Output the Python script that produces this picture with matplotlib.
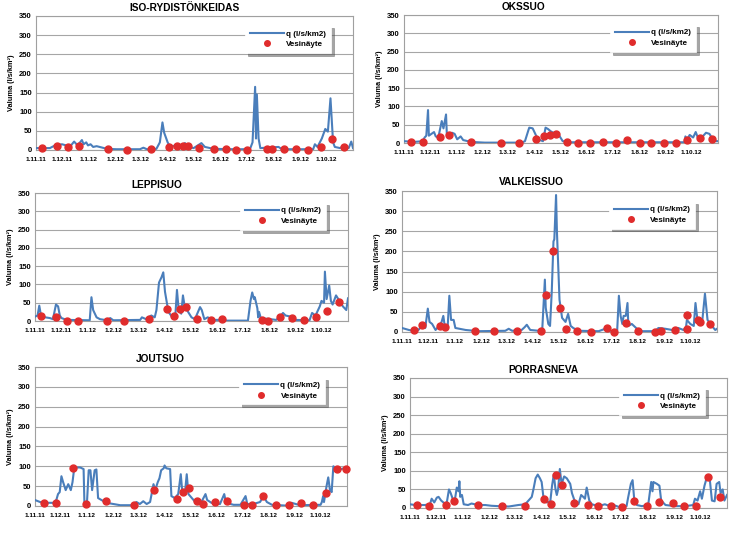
import numpy as np
import matplotlib
matplotlib.use("Agg")
import matplotlib.pyplot as plt
import matplotlib.dates as mdates

plt.rcParams['font.family'] = ['Liberation Sans Narrow', 'Liberation Sans', 'DejaVu Sans']

start_date = "2011-11-01"
month_ticks = ["1.11.11", "1.12.11", "1.1.12", "1.2.12", "1.3.12", "1.4.12",
               "1.5.12", "1.6.12", "1.7.12", "1.8.12", "1.9.12", "1.10.12"]
month_days = [0, 30, 61, 92, 121, 152, 182, 213, 243, 274, 305, 335]

# ---------------- ISO-RYDISTÖNKEIDAS ----------------
iso_q_day = [0, 16, 22, 30, 35, 39, 44, 48, 53, 55, 58, 60, 63, 66, 70, 82, 93, 120, 124, 128,
             139, 143, 146, 148, 152, 155, 161, 166, 172, 176, 182, 191, 195, 205, 228, 247,
             250, 253, 254, 255, 257, 259, 280, 284, 320, 322, 325, 330, 334, 337, 340, 343,
             345, 351, 355, 361, 364, 366]
iso_q = [5, 5, 12, 15, 12, 8, 22, 12, 26, 15, 20, 12, 15, 8, 10, 3, 2, 2, 6, 2,
         3, 20, 72, 45, 20, 8, 12, 8, 18, 8, 5, 18, 8, 3, 2, 2,
         20, 165, 30, 145, 30, 5, 8, 2, 2, 15, 8, 30, 55, 48, 135, 20,
         8, 5, 10, 5, 22, 5]
iso_s_day = [6.5, 24, 36.6, 50, 83.6, 104.8, 132.5, 154, 162.6, 169.5, 176, 188.7, 205,
             219.6, 230.7, 244, 266.6, 272.3, 285.8, 300, 314, 329, 341.7, 356]
iso_s = [4, 11, 8, 10, 3, 1, 2, 7, 11, 10, 10, 4, 2, 2, 1, 1, 2, 3, 2, 2, 1, 8, 28, 7]

# ---------------- OKSSUO ----------------
oks_q_day = [0, 12, 22, 24, 26, 28, 29, 32, 35, 37, 40, 44, 46, 49, 50, 53, 56, 59, 62, 66,
             69, 78, 94, 137, 141, 145, 146, 150, 153, 156, 162, 165, 168, 171, 174, 178,
             181, 185, 195, 327, 328, 330, 333, 337, 340, 343, 347, 352, 356, 360, 364, 366]
oks_q = [5, 3, 5, 15, 20, 90, 20, 25, 30, 18, 15, 60, 40, 78, 20, 15, 28, 25, 10, 18,
         8, 3, 1, 1, 5, 35, 42, 40, 25, 10, 5, 42, 38, 32, 28, 30,
         20, 5, 2, 2, 18, 10, 22, 15, 30, 12, 15, 28, 25, 10, 5, 5]
oks_s_day = [8.5, 22, 41.6, 52, 78.5, 113.4, 134, 154, 163, 170, 177.5, 189.6, 202.8, 217,
             232, 247.5, 260, 275, 288, 302.6, 317, 330, 344.6, 359]
oks_s = [3, 3, 16, 21, 3, 0, 1, 11, 20, 21, 24, 2, 1, 1, 2, 0, 7, 0, 0, 1, 0, 9, 14, 11]

# ---------------- LEPPISUO ----------------
lep_q_day = [0, 3, 5, 7, 12, 17.5, 21, 24.5, 27, 29, 31, 37, 64, 66, 68, 72, 76, 84, 88, 91.5,
             123, 125, 130, 136, 140, 142, 145, 148, 150, 152, 156, 160, 164, 166, 168, 171,
             173, 175, 179, 183, 187, 193, 195, 198, 202, 208, 216, 220, 224, 249, 252, 254,
             256, 257, 260, 261, 262, 264, 282, 286, 290, 293, 299, 304, 321, 324, 328, 333,
             335, 338, 339, 341, 344, 346, 348, 352, 356, 360, 364, 366]
lep_q = [12, 15, 42, 15, 10, 8, 5, 45, 40, 15, 8, 3, 2, 65, 30, 10, 5, 2, 8, 2,
         3, 10, 5, 15, 10, 30, 105, 120, 133, 80, 25, 12, 10, 85, 30, 20,
         70, 40, 25, 10, 5, 38, 30, 5, 10, 3, 3, 5, 1, 1, 55, 78,
         60, 65, 35, 10, 25, 8, 3, 10, 22, 15, 12, 3, 2, 22, 15, 40,
         55, 50, 135, 60, 97, 55, 45, 70, 55, 40, 30, 62]
lep_s_day = [7, 24, 37, 50.6, 83.7, 104, 133, 154, 162, 169, 176, 189, 205.6, 219, 266, 272,
             286, 300, 314, 329, 342, 356]
lep_s = [15, 12, 1, 1, 0, 1, 5, 34, 14, 32, 38, 5, 2, 5, 2, 1, 12, 8, 2, 11, 28, 51]

# ---------------- VALKEISSUO ----------------
val_q_day = [0, 8, 13.5, 19, 23, 25.5, 27, 30, 32, 35, 39, 43, 46, 48, 50, 53, 55, 57, 60, 62,
             74, 89, 120, 124, 128, 139, 142.5, 145, 149, 159, 163, 166, 167, 170, 172, 174,
             176, 177, 179, 180, 183, 186, 190, 193, 196, 199, 205, 228.5, 236, 244, 250, 252,
             254, 256, 257.5, 260, 262, 263, 267, 273, 279, 294, 298, 306, 314, 321, 327, 330,
             331, 335, 339, 341, 343, 347, 349, 352, 355, 360, 364, 366]
val_q = [10, 5, 3, 5, 15, 22, 10, 58, 25, 20, 5, 15, 25, 40, 10, 10, 90, 30, 30, 10,
         5, 2, 3, 8, 3, 5, 12, 18, 5, 3, 8, 130, 60, 20, 15, 100,
         225, 230, 340, 250, 80, 35, 25, 45, 15, 10, 3, 2, 8, 2, 3, 90,
         40, 20, 40, 40, 72, 15, 20, 8, 2, 2, 10, 8, 5, 10, 5, 12,
         30, 20, 15, 72, 35, 25, 30, 95, 30, 15, 5, 8]
val_s_day = [13.5, 23, 44, 50, 85, 106.5, 133.6, 162, 167, 175, 183, 190, 203, 220, 238.6,
             246.4, 260, 274, 294, 301, 317.6, 331, 331.5, 343.5, 346, 357.5]
val_s = [5, 17, 14, 13, 3, 2, 2, 2, 93, 202, 59, 8, 2, 0, 10, 0, 23, 2, 0, 2, 5, 7, 42, 31,
         26, 19]

# ---------------- JOUTSUO ----------------
jou_q_day = [0, 6, 14, 21.5, 25, 27, 29, 31, 33, 36, 39, 42, 44, 46, 49, 53, 57, 58, 61, 63,
             65, 67, 70, 72, 74, 78, 84, 92, 100, 115, 119, 123, 127, 131, 135, 139, 141, 144,
             146, 148, 151, 152, 154, 158.5, 160, 164, 168, 171, 173, 176, 178, 180, 184, 188,
             194, 200, 202, 207, 217, 222, 224, 233, 241, 247, 249, 256, 264, 268, 272, 278,
             295, 301, 311, 335, 336.5, 338, 339, 342, 344, 346, 348, 350, 353, 358, 362, 366]
jou_q = [15, 10, 8, 8, 15, 30, 35, 75, 60, 40, 55, 40, 60, 95, 97, 97, 93, 5, 10, 90,
         90, 40, 90, 92, 20, 15, 8, 5, 2, 2, 10, 5, 12, 5, 10, 55, 40, 60,
         70, 90, 95, 102, 95, 93, 25, 20, 30, 80, 30, 35, 80, 30, 20, 10,
         5, 30, 15, 8, 5, 30, 8, 3, 3, 25, 5, 5, 10, 25, 10, 3,
         1, 8, 2, 3, 10, 25, 10, 50, 72, 40, 35, 100, 95, 92, 95, 92]
jou_s_day = [11, 24.7, 45, 59.5, 83, 116.6, 140, 167, 174, 181, 190, 197, 211, 225, 244.6,
             254, 267, 283, 298, 312, 325.6, 341, 354.6, 365]
jou_s = [8, 8, 96, 6, 12, 3, 41, 18, 35, 45, 12, 5, 10, 13, 3, 2, 25, 3, 2, 8, 3, 33, 94, 93]

# ---------------- PORRASNEVA ----------------
por_q_day = [0, 6, 17, 23, 25, 28, 31, 33, 36, 38.5, 42, 45, 47, 50, 52, 54, 56, 57, 58, 60,
             62, 67, 71, 79, 87, 94, 102, 114, 125, 133, 140.6, 142.5, 145, 147.5, 150, 152,
             154, 156, 158, 162, 164, 166, 168, 169.5, 171, 173, 175, 178, 181, 185, 187,
             190.7, 194.5, 197.6, 200, 202, 204, 207, 210, 217.6, 225, 231, 235, 241, 250,
             252, 255, 257, 259, 262, 267.7, 275, 278.5, 280, 281, 285, 288, 290, 295, 306,
             318, 327, 329, 332, 335, 337, 340, 343, 346, 348.6, 351.7, 354, 357, 358.6, 361,
             363, 366]
por_q = [10, 8, 8, 10, 25, 15, 28, 30, 20, 15, 8, 50, 40, 20, 25, 55, 45, 72, 30, 35,
         10, 8, 12, 8, 8, 6, 5, 4, 8, 10, 30, 50, 80, 90, 80, 70,
         30, 20, 15, 18, 60, 90, 50, 35, 50, 105, 65, 85, 80, 65, 40,
         15, 10, 35, 30, 25, 55, 20, 10, 5, 10, 5, 8, 3, 5,
         30, 65, 75, 20, 8, 5, 8, 70, 45, 70, 65, 60, 20, 8, 5,
         5, 8, 25, 20, 45, 25, 60, 85, 80, 20, 18, 65, 70, 40, 50,
         20, 35]
por_s_day = [7.7, 22, 41.6, 51, 78, 106, 133, 155, 163, 168, 175, 189, 206, 217.6, 232, 245,
             259, 274, 287, 303.5, 316, 330, 343.6, 357.5]
por_s = [7, 5, 7, 18, 8, 5, 6, 24, 12, 90, 61, 14, 7, 5, 5, 3, 20, 5, 17, 14, 5, 6, 84, 30]

panels = [
    ("ISO-RYDISTÖNKEIDAS", iso_q_day, iso_q, iso_s_day, iso_s, [36, 353, 16, 150], 0.47),
    ("OKSSUO", oks_q_day, oks_q, oks_s_day, oks_s, [404, 718, 15, 143], 0.38),
    ("LEPPISUO", lep_q_day, lep_q, lep_s_day, lep_s, [35, 348, 193, 321], 0.39),
    ("VALKEISSUO", val_q_day, val_q, val_s_day, val_s, [402, 717, 191, 332], 0.41),
    ("JOUTSUO", jou_q_day, jou_q, jou_s_day, jou_s, [35, 347, 367, 506], 0.40),
    ("PORRASNEVA", por_q_day, por_q, por_s_day, por_s, [410, 727, 378, 508], 0.42),
]

W, H = 733, 535
fig = plt.figure(figsize=(W / 100, H / 100), dpi=100)
fig.patch.set_facecolor("white")

base = mdates.date2num(np.datetime64(start_date))
line_color = "#4A7EBB"
dot_color = "#E02C2C"
grid_color = "#A6A6A6"

for title, qd, q, sd, s, (l, r, t, b), tx in panels:
    ax = fig.add_axes([l / W, 1 - b / H, (r - l) / W, (b - t) / H])
    ax.plot(base + np.array(qd), q, color=line_color, lw=1.5, label="q (l/s/km2)", zorder=3)
    ax.plot(base + np.array(sd), s, ls="none", marker="o", ms=5, mfc=dot_color,
            mec=dot_color, label="Vesinäyte", zorder=4, clip_on=False)
    ax.set_xlim(base, base + 366)
    ax.set_ylim(0, 350)
    ax.set_yticks(range(0, 351, 50))
    ax.set_xticks(base + np.array(month_days))
    ax.set_xticklabels(month_ticks)
    ax.tick_params(axis="x", length=0, labelsize=4.6, pad=5)
    ax.tick_params(axis="y", length=0, labelsize=5.5, pad=3)
    for lab in ax.get_xticklabels() + ax.get_yticklabels():
        lab.set_fontweight("bold")
    ax.grid(axis="y", color=grid_color, lw=0.8)
    ax.set_axisbelow(True)
    for sp in ax.spines.values():
        sp.set_color("#A0A0A0")
        sp.set_linewidth(0.8)
    ax.set_ylabel("Valuma (l/s/km²)", fontsize=5.3, fontweight="bold", labelpad=3)
    ax.text(tx, 1.025, title, transform=ax.transAxes, ha="center", va="bottom",
            fontsize=7.3, fontweight="bold")
    leg = ax.legend(loc="upper right", bbox_to_anchor=(0.93, 0.93), fontsize=5.8,
                    frameon=True, fancybox=False, shadow=True, handlelength=4.2,
                    markerscale=0.8, borderpad=0.6, labelspacing=0.35, handletextpad=0.3,
                    borderaxespad=0)
    leg.get_frame().set_edgecolor("white")
    leg.get_frame().set_linewidth(0.5)
    for txt in leg.get_texts():
        txt.set_fontweight("bold")

fig.savefig("out.png", dpi=100, facecolor="white")
